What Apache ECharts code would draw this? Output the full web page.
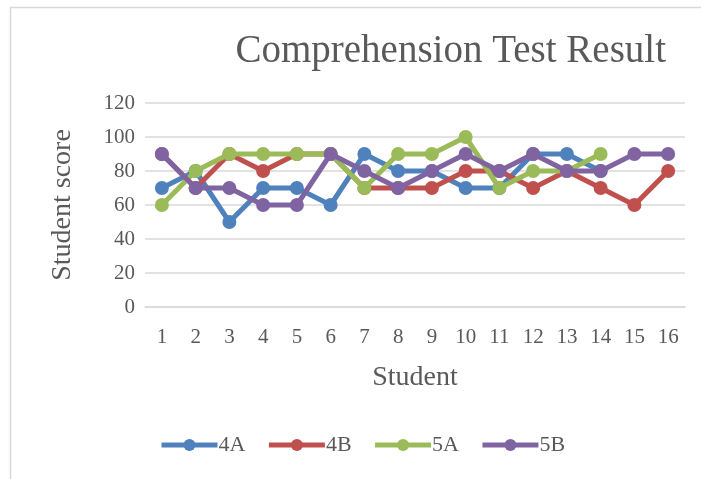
<!DOCTYPE html>
<html>
<head>
<meta charset="utf-8">
<script src="https://cdn.jsdelivr.net/npm/echarts@6/dist/echarts.min.js"></script>
<style>
html,body{margin:0;padding:0;background:#fff;}
#chart{width:701px;height:479px;}
</style>
</head>
<body>
<div id="chart"></div>
<script>
var students = ['1','2','3','4','5','6','7','8','9','10','11','12','13','14','15','16'];
var s4A = [70, 80, 50, 70, 70, 60, 90, 80, 80, 70, 70, 90, 90, 80, null, null];
var s4B = [90, 70, 90, 80, 90, 90, 70, 70, 70, 80, 80, 70, 80, 70, 60, 80];
var s5A = [60, 80, 90, 90, 90, 90, 70, 90, 90, 100, 70, 80, 80, 90, null, null];
var s5B = [90, 70, 70, 60, 60, 90, 80, 70, 80, 90, 80, 90, 80, 80, 90, 90];
var seriesNames = ['4A', '4B', '5A', '5B'];
var colors = ['#4F81BD', '#C0504D', '#9BBB59', '#8064A2'];
var yTicks = [0, 20, 40, 60, 80, 100, 120];

var font = 'Liberation Serif';
var txt = '#595959';
var data = [s4A, s4B, s5A, s5B];

var chart = echarts.init(document.getElementById('chart'), null, {renderer: 'canvas'});
chart.setOption({
  animation: false,
  backgroundColor: '#ffffff',
  graphic: [{
    type: 'rect', left: 8, top: 5,
    shape: {x: 0, y: 0, width: 710, height: 490},
    style: {fill: 'none', stroke: '#D9D9D9', lineWidth: 1.5},
    silent: true, z: -1
  }],
  title: {
    text: 'Comprehension Test Result',
    right: 30, top: 27,
    textStyle: {fontFamily: font, fontSize: 39, fontWeight: 'normal', color: txt}
  },
  legend: {
    data: seriesNames,
    left: 154, top: 429,
    itemWidth: 56, itemHeight: 15, itemGap: 21,
    lineStyle: {width: 5},
    textStyle: {fontFamily: font, fontSize: 22, color: txt, padding: [0,0,0,-4]}
  },
  grid: {left: 145, right: 16, top: 103, bottom: 172},
  xAxis: {
    type: 'category',
    data: students,
    boundaryGap: true,
    name: 'Student',
    nameLocation: 'middle',
    nameGap: 57,
    nameTextStyle: {fontFamily: font, fontSize: 28, color: txt},
    axisLine: {show: true, lineStyle: {color: '#D9D9D9', width: 1.5}},
    axisTick: {show: false},
    axisLabel: {fontFamily: font, fontSize: 21, color: txt, margin: 20}
  },
  yAxis: {
    type: 'value',
    min: 0, max: 120, interval: 20,
    name: 'Student score',
    nameLocation: 'middle',
    nameGap: 68,
    nameRotate: 90,
    nameTextStyle: {fontFamily: font, fontSize: 28, color: txt},
    axisLine: {show: false},
    axisTick: {show: false},
    axisLabel: {fontFamily: font, fontSize: 21, color: txt, margin: 10},
    splitLine: {lineStyle: {color: '#D9D9D9', width: 1.5}}
  },
  series: seriesNames.map(function (n, i) {
    return {
      name: n, type: 'line', data: data[i],
      color: colors[i],
      symbol: 'circle', symbolSize: 14,
      lineStyle: {width: 5, color: colors[i]},
      itemStyle: {color: colors[i]},
      z: 2 + i
    };
  })
});
</script>
</body>
</html>
